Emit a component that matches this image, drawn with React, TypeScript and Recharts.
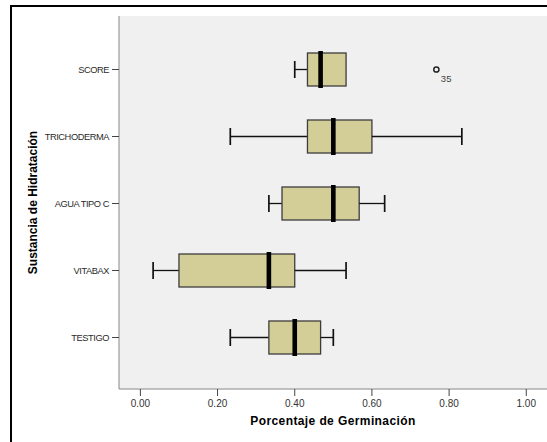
import { ComposedChart, Bar, XAxis, YAxis, CartesianGrid, ReferenceDot } from 'recharts'

// boxplot values (Porcentaje de Germinación)
const CATEGORIES = ['SCORE', 'TRICHODERMA', 'AGUA TIPO C', 'VITABAX', 'TESTIGO']
const MIN = [0.4, 0.233, 0.333, 0.033, 0.233]
const Q1 = [0.433, 0.433, 0.367, 0.1, 0.333]
const MEDIAN = [0.467, 0.5, 0.5, 0.333, 0.4]
const Q3 = [0.533, 0.6, 0.567, 0.4, 0.467]
const MAX = [0.533, 0.833, 0.633, 0.533, 0.5]
const OUTLIERS = [{ category: 'SCORE', value: 0.767, id: '35' }]
const X_TICKS = [0, 0.2, 0.4, 0.6, 0.8, 1.0]
const X_DOMAIN: [number, number] = [-0.0554, 1.0537]

const BOX_FILL = '#d3ce98'
const FONT = '"Liberation Sans", Arial, sans-serif'

// stacked segments: invisible base, lower whisker, two box halves, upper whisker
const rows = CATEGORIES.map((name, i) => ({
  name,
  base: MIN[i],
  lowWhisker: Q1[i] - MIN[i],
  lowBox: MEDIAN[i] - Q1[i],
  highBox: Q3[i] - MEDIAN[i],
  highWhisker: MAX[i] - Q3[i],
}))

const Empty = () => <g />

const whisker = (side: 'low' | 'high') => (props: any) => {
  const { x, y, width, height } = props
  if (!width || width < 0.5) return <g />
  const cy = y + height / 2
  const capX = side === 'low' ? x : x + width
  return (
    <g>
      <line x1={x} x2={x + width} y1={cy} y2={cy} stroke="#111" strokeWidth={1.3} />
      <line x1={capX} x2={capX} y1={cy - 8.5} y2={cy + 8.5} stroke="#111" strokeWidth={1.7} />
    </g>
  )
}

const LowBox = (props: any) => {
  const { x, y, width, height } = props
  return <rect x={x} y={y} width={Math.max(width, 0)} height={height} fill={BOX_FILL} stroke="#3c3c3c" strokeWidth={1.3} />
}

// upper half of the box also carries the thick median bar on its left edge
const HighBox = (props: any) => {
  const { x, y, width, height } = props
  return (
    <g>
      <rect x={x} y={y} width={Math.max(width, 0)} height={height} fill={BOX_FILL} stroke="#3c3c3c" strokeWidth={1.3} />
      <rect x={x - 2.3} y={y - 2} width={4.6} height={height + 4} fill="#000" />
    </g>
  )
}

const OutlierDot = (props: any) => {
  const { cx, cy, id } = props
  return (
    <g>
      <circle cx={cx} cy={cy} r={2.6} fill="none" stroke="#222" strokeWidth={1.5} />
      <text x={cx + 4.5} y={cy + 12} fontSize={9.5} fill="#444">
        {id}
      </text>
    </g>
  )
}

export default function App() {
  return (
    <>
      <style>{'html, body { margin: 0; overflow: hidden; }'}</style>
      <div
        style={{
          position: 'relative',
          width: 547,
          height: 442,
          overflow: 'hidden',
          background: '#fff',
          fontFamily: FONT,
        }}
      >
        <ComposedChart
          layout="vertical"
          width={547}
          height={442}
          data={rows}
          margin={{ top: 16, right: 0, bottom: 0, left: 0 }}
        >
          <CartesianGrid fill="#f0f0f0" stroke="none" horizontal={false} vertical={false} />
          <XAxis
            type="number"
            domain={X_DOMAIN}
            ticks={X_TICKS}
            interval={0}
            allowDataOverflow
            tickFormatter={(v: number) => v.toFixed(2)}
            height={53}
            tickSize={7}
            tickMargin={4}
            tick={{ fill: '#333', fontSize: 10 }}
            tickLine={{ stroke: '#444' }}
            axisLine={{ stroke: '#888' }}
            label={{
              value: 'Porcentaje de Germinación',
              position: 'insideBottom',
              offset: 17,
              style: { fontSize: 12, fontWeight: 'bold', fill: '#000', letterSpacing: 0.4 },
            }}
          />
          <XAxis
            xAxisId="top"
            orientation="top"
            type="number"
            domain={X_DOMAIN}
            allowDataOverflow
            height={0}
            tick={false}
            tickLine={false}
            axisLine={{ stroke: '#999' }}
          />
          <YAxis
            type="category"
            dataKey="name"
            width={119}
            padding={{ top: 20, bottom: 18 }}
            tickSize={7}
            tickMargin={3}
            interval={0}
            tick={{ fill: '#2a2a2a', fontSize: 9.3, letterSpacing: -0.45 }}
            tickLine={{ stroke: '#444' }}
            axisLine={{ stroke: '#888' }}
            label={{
              value: 'Sustancia de Hidratación',
              angle: -90,
              position: 'insideLeft',
              offset: 33,
              style: { fontSize: 12, fontWeight: 'bold', fill: '#000', textAnchor: 'middle' },
            }}
          />
          <Bar dataKey="base" stackId="box" barSize={33} shape={Empty} isAnimationActive={false} />
          <Bar dataKey="lowWhisker" stackId="box" barSize={33} shape={whisker('low')} isAnimationActive={false} />
          <Bar dataKey="lowBox" stackId="box" barSize={33} shape={LowBox} isAnimationActive={false} />
          <Bar dataKey="highBox" stackId="box" barSize={33} shape={HighBox} isAnimationActive={false} />
          <Bar dataKey="highWhisker" stackId="box" barSize={33} shape={whisker('high')} isAnimationActive={false} />
          {OUTLIERS.map((o) => (
            <ReferenceDot
              key={o.id}
              x={o.value}
              y={o.category}
              r={2.6}
              shape={(p: any) => <OutlierDot {...p} id={o.id} />}
            />
          ))}
        </ComposedChart>
        {/* outer frame of the SPSS output, cut off at right and bottom */}
        <div
          style={{
            position: 'absolute',
            left: 10,
            top: 4.5,
            width: 620,
            height: 520,
            border: '2px solid #000',
            boxSizing: 'border-box',
            pointerEvents: 'none',
          }}
        />
      </div>
    </>
  )
}
